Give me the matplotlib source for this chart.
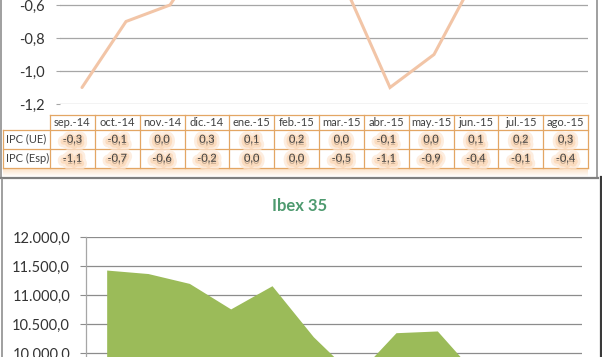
import matplotlib
matplotlib.use("Agg")
import matplotlib.pyplot as plt
import matplotlib.patheffects as pe
from matplotlib.ticker import FuncFormatter
import numpy as np

plt.rcParams['font.family'] = ['Lato', 'DejaVu Sans']

# ---------------- data ----------------
months = ['sep.-14', 'oct.-14', 'nov.-14', 'dic.-14', 'ene.-15', 'feb.-15',
          'mar.-15', 'abr.-15', 'may.-15', 'jun.-15', 'jul.-15', 'ago.-15']
ipc_ue = [-0.3, -0.1, 0.0, 0.3, 0.1, 0.2, 0.0, -0.1, 0.0, 0.1, 0.2, 0.3]
ipc_esp = [-1.1, -0.7, -0.6, -0.2, 0.0, 0.0, -0.5, -1.1, -0.9, -0.4, -0.1, -0.4]
row_labels = ['IPC (UE)', 'IPC (Esp)']
ipc_ticks = [-1.2, -1.0, -0.8, -0.6]
ibex = [11430, 11370, 11200, 10760, 11160, 10280, 9590, 10350, 10380, 9580, 8820, 8240]
ibex_ticks = [10000, 10500, 11000, 11500, 12000]
ibex_title = 'Ibex 35'

W, H = 602, 357
fig = plt.figure(figsize=(W / 100, H / 100), dpi=100)
fig.patch.set_facecolor('white')

def fx(px):
    return px / W

def fy(px):
    return 1 - px / H

txt_col = '#333333'
grid_col = '#a6a6a6'

# ---------------- top chart (IPC) ----------------
top_left, top_right, top_bottom = 60, 588, 104
ymin_t, ymax_t = -1.2, 0.4
px_per_unit = 33 / 0.2
top_h = (ymax_t - ymin_t) * px_per_unit
ax1 = fig.add_axes([fx(top_left), fy(top_bottom), (top_right - top_left) / W, top_h / H])
x = np.arange(len(months))
ax1.plot(x, ipc_ue, color='#e8a060', lw=2.2, solid_capstyle='round')
ax1.plot(x, ipc_esp, color='#f2c5a7', lw=2.2, solid_capstyle='round', solid_joinstyle='miter')
ax1.set_xlim(-0.5, len(months) - 0.5)
ax1.set_ylim(ymin_t, ymax_t)
ax1.set_yticks(ipc_ticks)
ax1.yaxis.set_major_formatter(FuncFormatter(lambda v, p: f"{v:.1f}".replace('.', ',')))
ax1.grid(axis='y', color=grid_col, lw=0.9)
ax1.set_axisbelow(True)
for s in ['top', 'right', 'left', 'bottom']:
    ax1.spines[s].set_visible(False)
ax1.set_xticks([])
ax1.tick_params(axis='y', length=3, color=grid_col, labelsize=10.5, labelcolor=txt_col, pad=8)

# ---------------- bottom chart (Ibex) ----------------
bot_left, bot_right, bot_top = 86, 582, 237
ymin_b, ymax_b = 8000, 12000
px_per_500 = 29
bot_h = (ymax_b - ymin_b) / 500 * px_per_500
ax2 = fig.add_axes([fx(bot_left), fy(bot_top + bot_h), (bot_right - bot_left) / W, bot_h / H])
ax2.fill_between(x, ibex, ymin_b, color='#9bbb59', lw=0, zorder=2)
ax2.set_xlim(-0.5, len(months) - 0.5)
ax2.set_ylim(ymin_b, ymax_b)
ax2.set_yticks(ibex_ticks)
ax2.yaxis.set_major_formatter(FuncFormatter(
    lambda v, p: f"{v:,.1f}".replace(',', 'X').replace('.', ',').replace('X', '.')))
ax2.grid(axis='y', color='#8c8c8c', lw=0.9, zorder=1)
for s in ['top', 'right', 'bottom']:
    ax2.spines[s].set_visible(False)
ax2.spines['left'].set_color('#a6a6a6')
ax2.spines['left'].set_linewidth(0.9)
ax2.set_xticks([])
ax2.tick_params(axis='y', length=4.5, color='#8c8c8c', labelsize=10.5, labelcolor=txt_col, pad=7)

# ---------------- overlay (frames, data table, title) ----------------
ov = fig.add_axes([0, 0, 1, 1], zorder=5)
ov.set_xlim(0, W)
ov.set_ylim(H, 0)
ov.axis('off')
ov.patch.set_visible(False)

# glow band under the table
grad = np.zeros((20, 2, 4))
grad[..., 0] = 0.98
grad[..., 1] = 0.78
grad[..., 2] = 0.58
grad[..., 3] = np.linspace(0.55, 0.0, 20)[:, None]
ov.imshow(grad, extent=[3, 588, 177, 168], aspect='auto', interpolation='bilinear', zorder=1)

tab_left, tab_right = 50, 588
col_w = (tab_right - tab_left) / len(months)
y_head, y_r1, y_r2, y_bot = 115, 130, 148.5, 168
lab_left = 3
bcol = '#e3a664'
blw = 0.9
ov.plot([tab_left, tab_right], [y_head, y_head], color=bcol, lw=blw)
for yy in (y_r1, y_r2, y_bot):
    ov.plot([lab_left, tab_right], [yy, yy], color=bcol, lw=blw)
for i in range(len(months) + 1):
    xx = tab_left + i * col_w
    ov.plot([xx, xx], [y_head, y_bot], color=bcol, lw=blw)
ov.plot([lab_left, lab_left], [y_r1, y_bot], color=bcol, lw=blw)

glow = [pe.Stroke(linewidth=8, foreground='#fde6d2', alpha=0.7, offset=(0, -1.5)),
        pe.Stroke(linewidth=4, foreground='#fbcfa6', alpha=0.55, offset=(0, -1.5)),
        pe.Normal()]
tcol = '#404040'
fs = 8
for i, m in enumerate(months):
    cx = tab_left + (i + 0.5) * col_w
    ov.text(cx, (y_head + y_r1) / 2 + 0.5, m, ha='center', va='center', fontsize=fs, color=tcol)
    for val, (ya, yb) in zip((ipc_ue[i], ipc_esp[i]), ((y_r1, y_r2), (y_r2, y_bot))):
        s = f"{val:.1f}".replace('.', ',')
        ov.text(cx, (ya + yb) / 2, s, ha='center', va='center', fontsize=fs, color=tcol,
                path_effects=glow)
for lab, (ya, yb) in zip(row_labels, ((y_r1, y_r2), (y_r2, y_bot))):
    ov.text(lab_left + 2.5, (ya + yb) / 2, lab, ha='left', va='center', fontsize=fs, color=tcol)

# chart frames
fcol = '#8f8f8f'
ov.plot([1, 1], [0, 178], color=fcol, lw=1.2)
ov.plot([597, 597], [0, 178], color=fcol, lw=1.2)
ov.plot([0, 598], [178, 178], color='#7f7f7f', lw=1.6)
ov.plot([1.5, 1.5], [179, H], color=fcol, lw=1.2)
ov.plot([600.5, 600.5], [177, H], color='#3a3a3a', lw=1.6)

# bottom chart title
ov.text(300, 206, ibex_title, ha='center', va='center', fontsize=12, fontweight='bold',
        color='#4e9a6f')

fig.savefig('out.png', dpi=100, facecolor='white')
